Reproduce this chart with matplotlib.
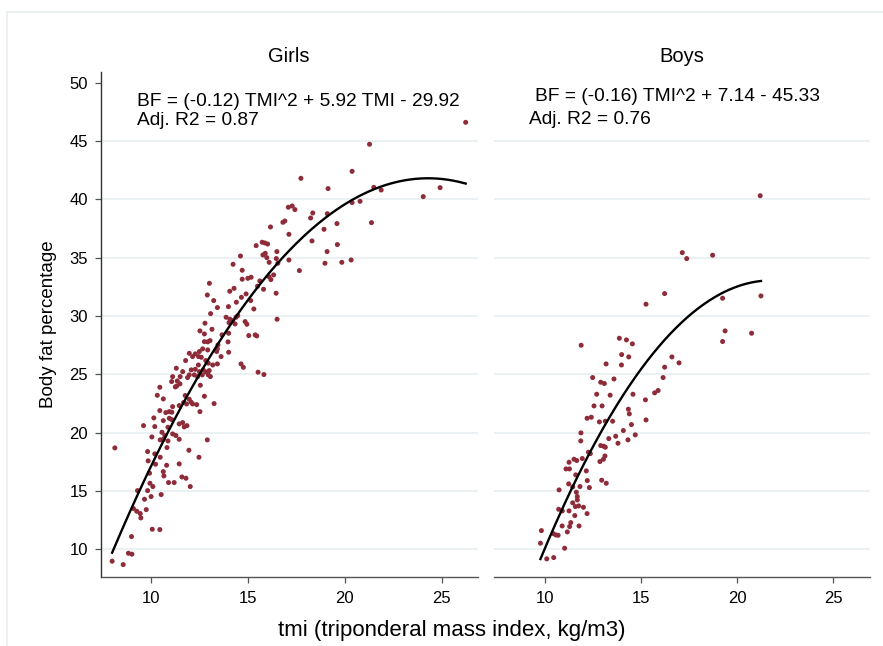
import matplotlib
matplotlib.use("Agg")
import matplotlib.pyplot as plt
import matplotlib.patches as mpatches
import numpy as np

plt.rcParams['font.family'] = ['Liberation Sans', 'DejaVu Sans']

# ---------------- data ----------------
girls_tmi = [14.07, 12.91, 16.46, 13.24, 14.41, 14.67, 14.91, 15.15, 13.43, 14.00, 15.31, 13.08,
             13.88, 14.08, 14.22, 14.39, 14.48, 14.03, 14.34, 14.86, 14.95, 16.51, 12.79, 12.53,
             12.76, 13.15, 13.67, 14.01, 15.05, 15.38, 15.46, 12.76, 12.93, 13.05, 13.46, 13.98,
             12.67, 12.93, 13.43, 13.39, 12.50, 12.29, 12.46, 11.98, 12.15, 12.60, 14.01, 13.62,
             11.79, 12.83, 12.96, 12.45, 13.43, 13.19, 14.65, 14.77, 11.31, 12.08, 12.29, 12.50,
             12.70, 12.84, 13.01, 11.98, 12.24, 12.41, 12.65, 12.96, 13.07, 11.64, 11.89, 11.51,
             11.12, 15.53, 15.83, 11.07, 11.36, 11.26, 11.50, 11.33, 12.55, 10.46, 10.33, 10.64,
             11.77, 12.76, 11.98, 11.69, 11.84, 12.08, 12.15, 12.36, 13.26, 11.46, 11.12, 12.53,
             10.46, 10.77, 10.95, 11.08, 10.15, 10.95, 11.07, 11.46, 11.64, 11.86, 11.72, 10.64,
             10.88, 9.62, 10.20, 10.57, 11.12, 11.29, 10.05, 10.72, 10.64, 10.48, 11.46, 10.88,
             12.91, 8.14, 10.83, 9.83, 10.20, 10.48, 11.96, 12.48, 9.86, 10.24, 10.81, 11.46,
             9.93, 10.64, 10.67, 11.60, 11.81, 10.91, 11.20, 9.95, 10.10, 12.03, 9.31, 9.83,
             10.01, 10.53, 9.67, 9.10, 9.27, 9.45, 9.76, 9.48, 10.07, 10.46, 9.00, 8.84,
             9.02, 8.00, 8.57,
             26.24, 21.28, 20.38, 17.74, 19.14, 21.50, 21.88, 24.92, 24.05, 20.38, 20.79, 21.38,
             17.09, 17.29, 17.43, 18.35, 18.24, 19.10, 19.60, 16.81, 16.91, 16.17, 17.12, 18.93,
             18.31, 15.43, 15.74, 15.88, 16.02, 19.62, 19.09, 18.98, 19.85, 20.33, 14.62, 15.78,
             15.90, 15.98, 16.50, 16.47, 17.12, 14.24, 14.71, 16.10, 16.55, 17.66, 13.02, 14.29,
             14.71, 15.00, 15.17, 15.62, 16.09, 16.19, 16.33, 15.50, 15.81]
girls_bf = [32.12, 31.80, 31.95, 31.32, 31.18, 31.60, 31.89, 31.32, 30.72, 30.80, 30.60, 30.20,
            29.89, 29.72, 29.60, 29.89, 30.03, 29.43, 29.32, 29.52, 29.29, 29.72, 29.38, 28.72,
            28.46, 28.86, 28.38, 28.52, 28.32, 28.38, 28.29, 27.80, 27.78, 27.89, 27.52, 27.78,
            27.18, 27.09, 27.18, 26.95, 26.95, 26.75, 26.52, 26.80, 26.52, 26.46, 26.89, 26.52,
            26.18, 26.18, 25.95, 25.80, 25.89, 25.80, 25.89, 25.60, 25.52, 25.38, 25.43, 25.23,
            25.38, 25.20, 25.32, 24.95, 24.95, 24.80, 24.95, 24.95, 24.80, 25.23, 24.72, 24.80,
            24.80, 25.18, 24.98, 24.38, 24.43, 23.92, 24.18, 24.00, 24.06, 23.89, 23.20, 22.89,
            23.18, 23.12, 22.86, 22.58, 22.46, 22.60, 22.46, 22.40, 22.49, 22.32, 22.23, 21.80,
            21.89, 21.72, 21.80, 21.75, 21.26, 21.23, 21.12, 20.75, 20.86, 20.60, 20.49, 21.03,
            20.46, 20.60, 20.52, 20.03, 19.89, 19.75, 19.63, 19.75, 19.43, 19.38, 19.43, 19.29,
            19.38, 18.69, 18.72, 18.38, 18.18, 17.89, 18.49, 17.89, 17.58, 17.29, 17.20, 17.32,
            16.52, 16.66, 16.29, 16.20, 16.09, 15.72, 15.72, 15.66, 15.38, 15.38, 15.03, 15.03,
            14.52, 14.69, 14.29, 13.49, 13.26, 13.06, 13.40, 12.69, 11.72, 11.69, 11.09, 9.66,
            9.58, 8.98, 8.69,
            46.60, 44.72, 42.40, 41.80, 40.92, 41.03, 40.80, 41.00, 40.23, 39.72, 39.83, 38.00,
            39.32, 39.43, 39.12, 38.83, 38.40, 38.77, 37.92, 38.03, 38.14, 37.63, 37.00, 37.43,
            36.43, 36.03, 36.32, 36.26, 36.17, 36.12, 35.52, 34.52, 34.60, 34.80, 35.14, 35.23,
            35.37, 35.00, 35.52, 34.92, 34.80, 34.43, 33.92, 34.60, 34.52, 33.89, 32.80, 32.37,
            33.15, 33.23, 33.32, 33.00, 33.37, 33.12, 33.52, 32.55, 32.29]

boys_tmi = [17.15, 17.38, 18.73, 16.23, 15.26, 19.25, 21.25, 19.38, 19.25, 20.76, 11.88, 13.87,
            14.24, 14.55, 13.99, 14.36, 13.18, 13.98, 16.61, 16.98, 16.23, 16.15, 12.48, 12.90,
            13.09, 13.59, 12.69, 13.39, 14.58, 15.71, 15.89, 15.23, 12.55, 12.97, 14.34, 14.39,
            15.26, 12.19, 12.41, 12.83, 13.14, 13.52, 14.50, 14.08, 11.87, 11.86, 13.68, 13.32,
            13.80, 14.32, 14.70, 12.26, 12.36, 11.94, 12.90, 13.06, 13.14, 13.12, 13.04, 12.86,
            11.25, 11.51, 11.65, 11.09, 11.27, 12.15, 11.60, 12.20, 12.95, 13.19, 11.23, 11.44,
            11.82, 12.31, 10.73, 11.63, 11.68, 11.68, 11.44, 11.58, 11.75, 12.00, 11.25, 10.90,
            10.71, 11.55, 12.19, 11.34, 11.28, 10.89, 11.16, 11.77, 9.81, 10.42, 10.56, 10.68,
            9.76, 11.02, 10.09, 10.45, 21.21]
boys_bf = [35.43, 34.92, 35.21, 31.92, 31.01, 31.52, 31.72, 28.72, 27.81, 28.52, 27.49, 28.09,
           27.95, 27.61, 26.69, 26.49, 25.89, 25.80, 26.49, 25.98, 25.61, 24.72, 24.72, 24.32,
           24.21, 24.60, 23.29, 23.21, 23.29, 23.41, 23.61, 22.81, 22.29, 22.29, 22.01, 21.61,
           21.09, 21.23, 21.32, 20.92, 20.98, 20.98, 20.69, 20.18, 19.98, 19.29, 19.69, 19.49,
           19.09, 19.38, 19.81, 18.32, 18.20, 17.78, 18.89, 18.83, 18.75, 18.00, 17.72, 17.52,
           17.46, 17.72, 17.61, 16.89, 16.89, 16.72, 16.38, 15.89, 15.92, 15.66, 15.61, 15.35,
           15.38, 15.29, 15.09, 14.89, 14.52, 14.23, 13.98, 13.66, 13.72, 13.60, 13.29, 13.29,
           13.43, 12.89, 13.06, 12.29, 11.95, 12.00, 11.49, 12.00, 11.60, 11.35, 11.23, 11.20,
           10.52, 10.09, 9.18, 9.29, 40.31]

# quadratic fit coefficients (a, b, c) of drawn curves
fit_girls = [-0.1208, 5.871, -29.53]
fit_boys = [-0.1651, 7.194, -45.32]

panel_titles = ["Girls", "Boys"]
eq_texts = ["BF = (-0.12) TMI^2 + 5.92 TMI - 29.92", "BF = (-0.16) TMI^2 + 7.14 - 45.33"]
r2_texts = ["Adj. R2 = 0.87", "Adj. R2 = 0.76"]
xticks = [10, 15, 20, 25]
yticks = [10, 15, 20, 25, 30, 35, 40, 45, 50]
grid_vals = [10, 15, 20, 25, 30, 35, 40, 45]
xlabel = "tmi (triponderal mass index, kg/m3)"
ylabel = "Body fat percentage"

# ---------------- style ----------------
W, H = 883, 646
marker_color = "#8E2C3A"
grid_color = "#E9EFF1"
axis_color = "#555555"

fig = plt.figure(figsize=(W / 100, H / 100), dpi=100)
fig.patch.set_facecolor("white")

# outer light frame
fig.patches.append(mpatches.Rectangle((6.7 / W, -0.01), 1.02, 1 - 12.3 / H + 0.01,
                                      transform=fig.transFigure, fill=False,
                                      edgecolor="#E8EEEF", linewidth=1.2))

bottom = 1 - 576.7 / H
height = (576.7 - 71.7) / H
ax_g = fig.add_axes([100.7 / W, bottom, (477.7 - 100.7) / W, height])
ax_b = fig.add_axes([494.0 / W, bottom, (870.0 - 494.0) / W, height])

xlims = [(7.41, 26.86), (7.34, 26.93)]
ylim = (7.65, 50.94)
datasets = [(girls_tmi, girls_bf, fit_girls), (boys_tmi, boys_bf, fit_boys)]
eq_pos = [(9.29, 48.38), (9.48, 48.80)]
r2_pos = [(9.29, 46.75), (9.18, 46.86)]

for i, ax in enumerate([ax_g, ax_b]):
    tx, by, coef = datasets[i]
    ax.set_xlim(*xlims[i])
    ax.set_ylim(*ylim)
    for g in grid_vals:
        ax.axhline(g, color=grid_color, linewidth=1.3, zorder=0)
    ax.scatter(tx, by, s=13, color=marker_color, edgecolors="none", zorder=3)
    tt = np.linspace(min(tx), max(tx), 200)
    ax.plot(tt, np.polyval(coef, tt), color="black", linewidth=1.7, zorder=4)

    ax.set_xticks(xticks)
    ax.tick_params(axis="x", direction="out", length=4.5, width=0.9, color=axis_color,
                   labelsize=12, pad=5.5, labelcolor="black")
    for s in ["top", "right"]:
        ax.spines[s].set_visible(False)
    ax.spines["bottom"].set_color(axis_color)
    ax.spines["bottom"].set_linewidth(1.0)

    ax.text(*eq_pos[i], eq_texts[i], fontsize=13.8, ha="left", va="center")
    ax.text(*r2_pos[i], r2_texts[i], fontsize=13.8, ha="left", va="center")

    pos = ax.get_position()
    fig.text((pos.x0 + pos.x1) / 2, 1 - 56.7 / H, panel_titles[i], fontsize=14.5,
             ha="center", va="center")

ax_g.set_yticks(yticks)
ax_g.tick_params(axis="y", direction="out", length=4.5, width=0.9, color=axis_color,
                 labelsize=12, pad=4.5)
ax_g.spines["left"].set_color("#333333")
ax_g.spines["left"].set_linewidth(1.0)

ax_b.spines["left"].set_visible(False)
ax_b.set_yticks([])

fig.text(452 / W, 1 - 630.8 / H, xlabel, fontsize=16, ha="center", va="center")
fig.text(48.3 / W, 1 - 324.2 / H, ylabel, fontsize=13.5, ha="center", va="center",
         rotation=90)

fig.savefig("out.png", dpi=100, facecolor="white")
